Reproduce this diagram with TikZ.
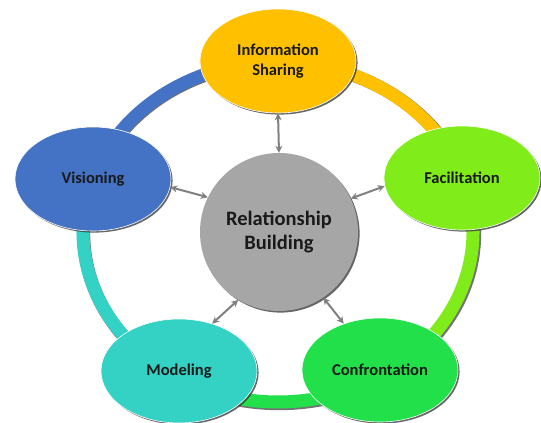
\documentclass[tikz,border=0pt]{standalone}
\usepackage{fontspec}
\setmainfont{Carlito}
\usepackage{tikz}
\usetikzlibrary{calc,shapes.geometric,shadows,arrows.meta}

\definecolor{infocol}{HTML}{FFC000}
\definecolor{facilcol}{HTML}{80EC1A}
\definecolor{confrcol}{HTML}{22E04A}
\definecolor{modelcol}{HTML}{33D2C4}
\definecolor{visioncol}{HTML}{4472C4}
\definecolor{relcol}{HTML}{A6A6A6}

\tikzset{
  stage/.style={ellipse,minimum width=156pt,minimum height=104pt,inner sep=0pt,
    draw=white,line width=0.6pt,align=center,text=black!90,
    font=\fontsize{16.5}{20}\selectfont\bfseries,
    drop shadow={shadow xshift=1.6pt,shadow yshift=-1.6pt,fill=black!80,opacity=0.75}},
  hub/.style={circle,minimum size=158pt,inner sep=0pt,fill=relcol,align=center,
    text=black!90,font=\fontsize{20.5}{24}\selectfont\bfseries,
    drop shadow={shadow xshift=1.6pt,shadow yshift=-1.6pt,fill=black!80,opacity=0.75}},
  link/.style={draw=black!50,line width=2pt,
    {Stealth[length=7pt,width=7pt,fill=black!55]}-{Stealth[length=7pt,width=7pt,fill=black!55]}},
  band/.style={line width=13pt}
}

\begin{document}
\begin{tikzpicture}[x=1pt,y=1pt]
  \useasboundingbox (0,0) rectangle (541,423);
  % shadow of the ring
  \draw[band,black!55] (279.2,189.8) ellipse [x radius=195.5,y radius=170.5];
  % coloured parts of the ring
  \draw[band,infocol]   ($(278,191)+(90:195 and 170)$) arc[start angle=90,end angle=18.6,x radius=195,y radius=170];
  \draw[band,facilcol]  ($(278,191)+(18.6:195 and 170)$) arc[start angle=18.6,end angle=-57,x radius=195,y radius=170];
  \draw[band,confrcol]  ($(278,191)+(-57:195 and 170)$) arc[start angle=-57,end angle=-122,x radius=195,y radius=170];
  \draw[band,modelcol]  ($(278,191)+(238:195 and 170)$) arc[start angle=238,end angle=162,x radius=195,y radius=170];
  \draw[band,visioncol] ($(278,191)+(162:195 and 170)$) arc[start angle=162,end angle=90,x radius=195,y radius=170];

  \node[stage,fill=infocol]   (info)   at (278,362) {Information\\Sharing};
  \node[stage,fill=facilcol]  (facil)  at (462,245) {Facilitation};
  \node[stage,fill=confrcol]  (confr)  at (380,53)  {Confrontation};
  \node[stage,fill=modelcol]  (model)  at (179,52)  {Modeling};
  \node[stage,fill=visioncol] (vision) at (93,244)  {Visioning};
  \node[hub] (rel) at (279,191) {Relationship\\Building};

  \draw[link] (rel.90)  -- (info.270);
  \draw[link] (rel.25)  -- (facil.186);
  \draw[link] (rel.304) -- (confr.128);
  \draw[link] (rel.239) -- (model.55);
  \draw[link] (rel.154) -- (vision.-6);
\end{tikzpicture}
\end{document}
